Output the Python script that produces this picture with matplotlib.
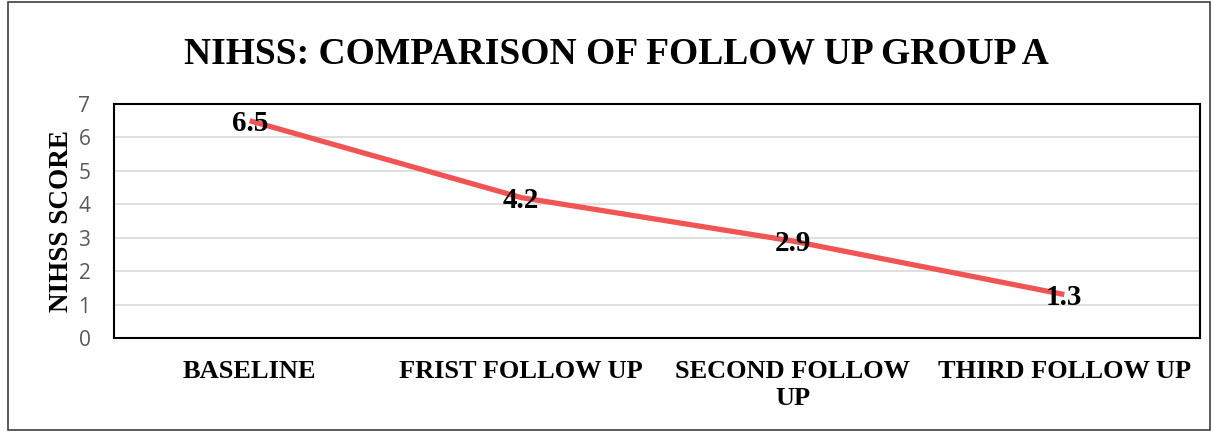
import matplotlib.pyplot as plt
from matplotlib.patches import Rectangle

# Data
categories = ["BASELINE", "FRIST FOLLOW UP", "SECOND FOLLOW\nUP", "THIRD FOLLOW UP"]
scores = [6.5, 4.2, 2.9, 1.3]
y_ticks = [0, 1, 2, 3, 4, 5, 6, 7]

serif = "Liberation Serif"

fig = plt.figure(figsize=(12.14, 4.32), dpi=100)
ax = fig.add_axes([0.0939, 0.2176, 0.8946, 0.5417])

x = list(range(len(categories)))
ax.plot(x, scores, color="#F05454", linewidth=3.8, solid_capstyle="butt", zorder=3)

for xi, v in zip(x, scores):
    ax.annotate(f"{v}", (xi, v), xytext=(0, -2), textcoords="offset points",
                ha="center", va="center", fontsize=21, fontweight="bold",
                family=serif, color="black", zorder=4)

ax.set_xlim(-0.5, len(categories) - 0.5)
ax.set_ylim(0, 7)
ax.set_yticks(y_ticks)
ax.set_xticks(x)
ax.set_xticklabels(categories, fontsize=19, fontweight="bold", family=serif,
                   linespacing=1.2)
ax.tick_params(axis="x", length=0, pad=16)
ax.tick_params(axis="y", length=0, pad=17, labelsize=15, labelcolor="#595959")
for lab in ax.get_yticklabels():
    lab.set_family("Open Sans")

ax.grid(axis="y", color="#D9D9D9", linewidth=1.2)
ax.set_axisbelow(True)
for s in ax.spines.values():
    s.set_color("black")
    s.set_linewidth(1.5)

ax.set_ylabel("NIHSS SCORE", fontsize=19.5, fontweight="bold", family=serif, labelpad=3)

fig.text(0.508, 0.876, "NIHSS: COMPARISON OF FOLLOW UP GROUP A", ha="center",
         va="center", fontsize=27, fontweight="bold", family=serif)

# outer border
fig.patches.append(Rectangle((0.007, 0.005), 0.99, 0.99, transform=fig.transFigure,
                             fill=False, edgecolor="#404040", linewidth=1.2))

fig.savefig("out.png", dpi=100)
